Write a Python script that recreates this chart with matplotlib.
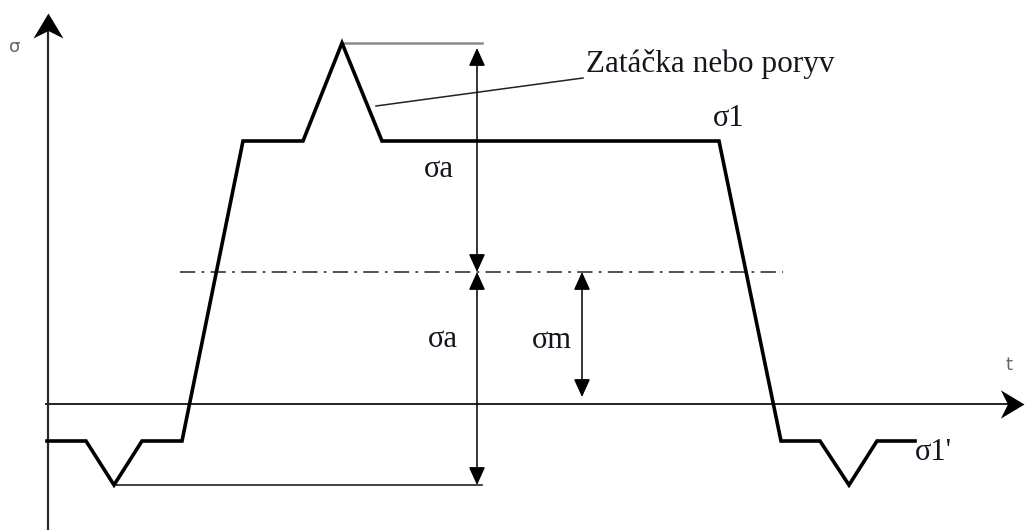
import matplotlib
matplotlib.use("Agg")
from matplotlib import pyplot as plt
from matplotlib.path import Path

plt.rcParams['lines.scale_dashes'] = False

# waveform of the stress cycle (t, sigma), origin at the axes crossing
t_wave = [-1, 38, 66, 94, 134, 195, 255, 294, 334, 671, 733, 772, 801, 829, 867]
sigma_wave = [-37, -37, -81, -37, -37, 263, 263, 361, 263, 263, -37, -37, -81, -37, -37]

# characteristic levels
sigma_peak = 361
sigma_1 = 263
sigma_m = 132
sigma_min = -81
sigma_1p = -37

# positions of the dimension lines
t_peak = 294
t_low = 66
t_dim = 429
t_dim_m = 534
t_mean_line = [132, 735]

labels = ['σa', 'σa', 'σm', 'σ1', "σ1'"]
label_t = [376, 380, 484, 665, 867]
label_sigma = [227, 57, 56, 278, -56]
note_text = 'Zatáčka nebo poryv'

serif = ['Liberation Serif', 'DejaVu Serif']
txt_col = '#15151f'

# notched arrow heads for the axes (tip at the origin of the path)
head_right = Path([(0, 0), (-1, 0.6), (-0.7, 0), (-1, -0.6), (0, 0)],
                  [Path.MOVETO, Path.LINETO, Path.LINETO, Path.LINETO, Path.CLOSEPOLY])
head_up = Path([(0, 0), (-0.6, -1), (0, -0.7), (0.6, -1), (0, 0)],
               [Path.MOVETO, Path.LINETO, Path.LINETO, Path.LINETO, Path.CLOSEPOLY])

fig = plt.figure(figsize=(10.25, 5.3), dpi=100)
ax = fig.add_axes([0, 0, 1, 1])
ax.set_xlim(-48, 977)
ax.set_ylim(-126, 404)
ax.axis('off')

# axes
ax.plot([0, 0], [-126, 385], color='#2a2a2a', lw=1.6)
ax.plot([-2, 972], [0, 0], color='#222222', lw=1.4)
ax.plot([0], [391], marker=head_up, markersize=36, color='black', mew=0)
ax.plot([976], [0], marker=head_right, markersize=34, color='black', mew=0)
ax.text(-39, 357, 'σ', fontsize=13, color='#666666', va='center', ha='left')
ax.text(957, 39, 't', fontsize=13, color='#666666', va='center', ha='left')

# mean stress line
ax.plot(t_mean_line, [sigma_m, sigma_m], color='#333333', lw=1.2,
        linestyle=(0, (11, 4.5, 2, 4.5)))

# reference lines at peak and minimum
ax.plot([t_peak, t_dim + 5], [sigma_peak, sigma_peak], color='#8a8a8a', lw=1.8)
ax.plot([t_low, t_dim + 5], [sigma_min, sigma_min], color='#222222', lw=1.2)

# the waveform
ax.plot(t_wave, sigma_wave, color='black', lw=2.6, solid_joinstyle='miter')

# dimension arrows
dim_arrow = dict(arrowstyle='<|-|>,head_length=1.1,head_width=0.5', mutation_scale=10,
                 color='black', lw=1.1, shrinkA=0, shrinkB=0)
ax.annotate('', xy=(t_dim, sigma_peak - 5), xytext=(t_dim, sigma_m), arrowprops=dim_arrow)
ax.annotate('', xy=(t_dim, sigma_m), xytext=(t_dim, sigma_min), arrowprops=dim_arrow)
ax.annotate('', xy=(t_dim_m, sigma_m), xytext=(t_dim_m, 7), arrowprops=dim_arrow)

# leader line to the note
ax.plot([328, 535], [298, 326], color='#222222', lw=1.1)
ax.text(538, 332, note_text, fontsize=22.5, family=serif, color=txt_col,
        ha='left', va='baseline')

for lab, tx, sy in zip(labels, label_t, label_sigma):
    ax.text(tx, sy, lab, fontsize=22, family=serif, color=txt_col, ha='left', va='baseline')

fig.savefig('out.png', dpi=100)
